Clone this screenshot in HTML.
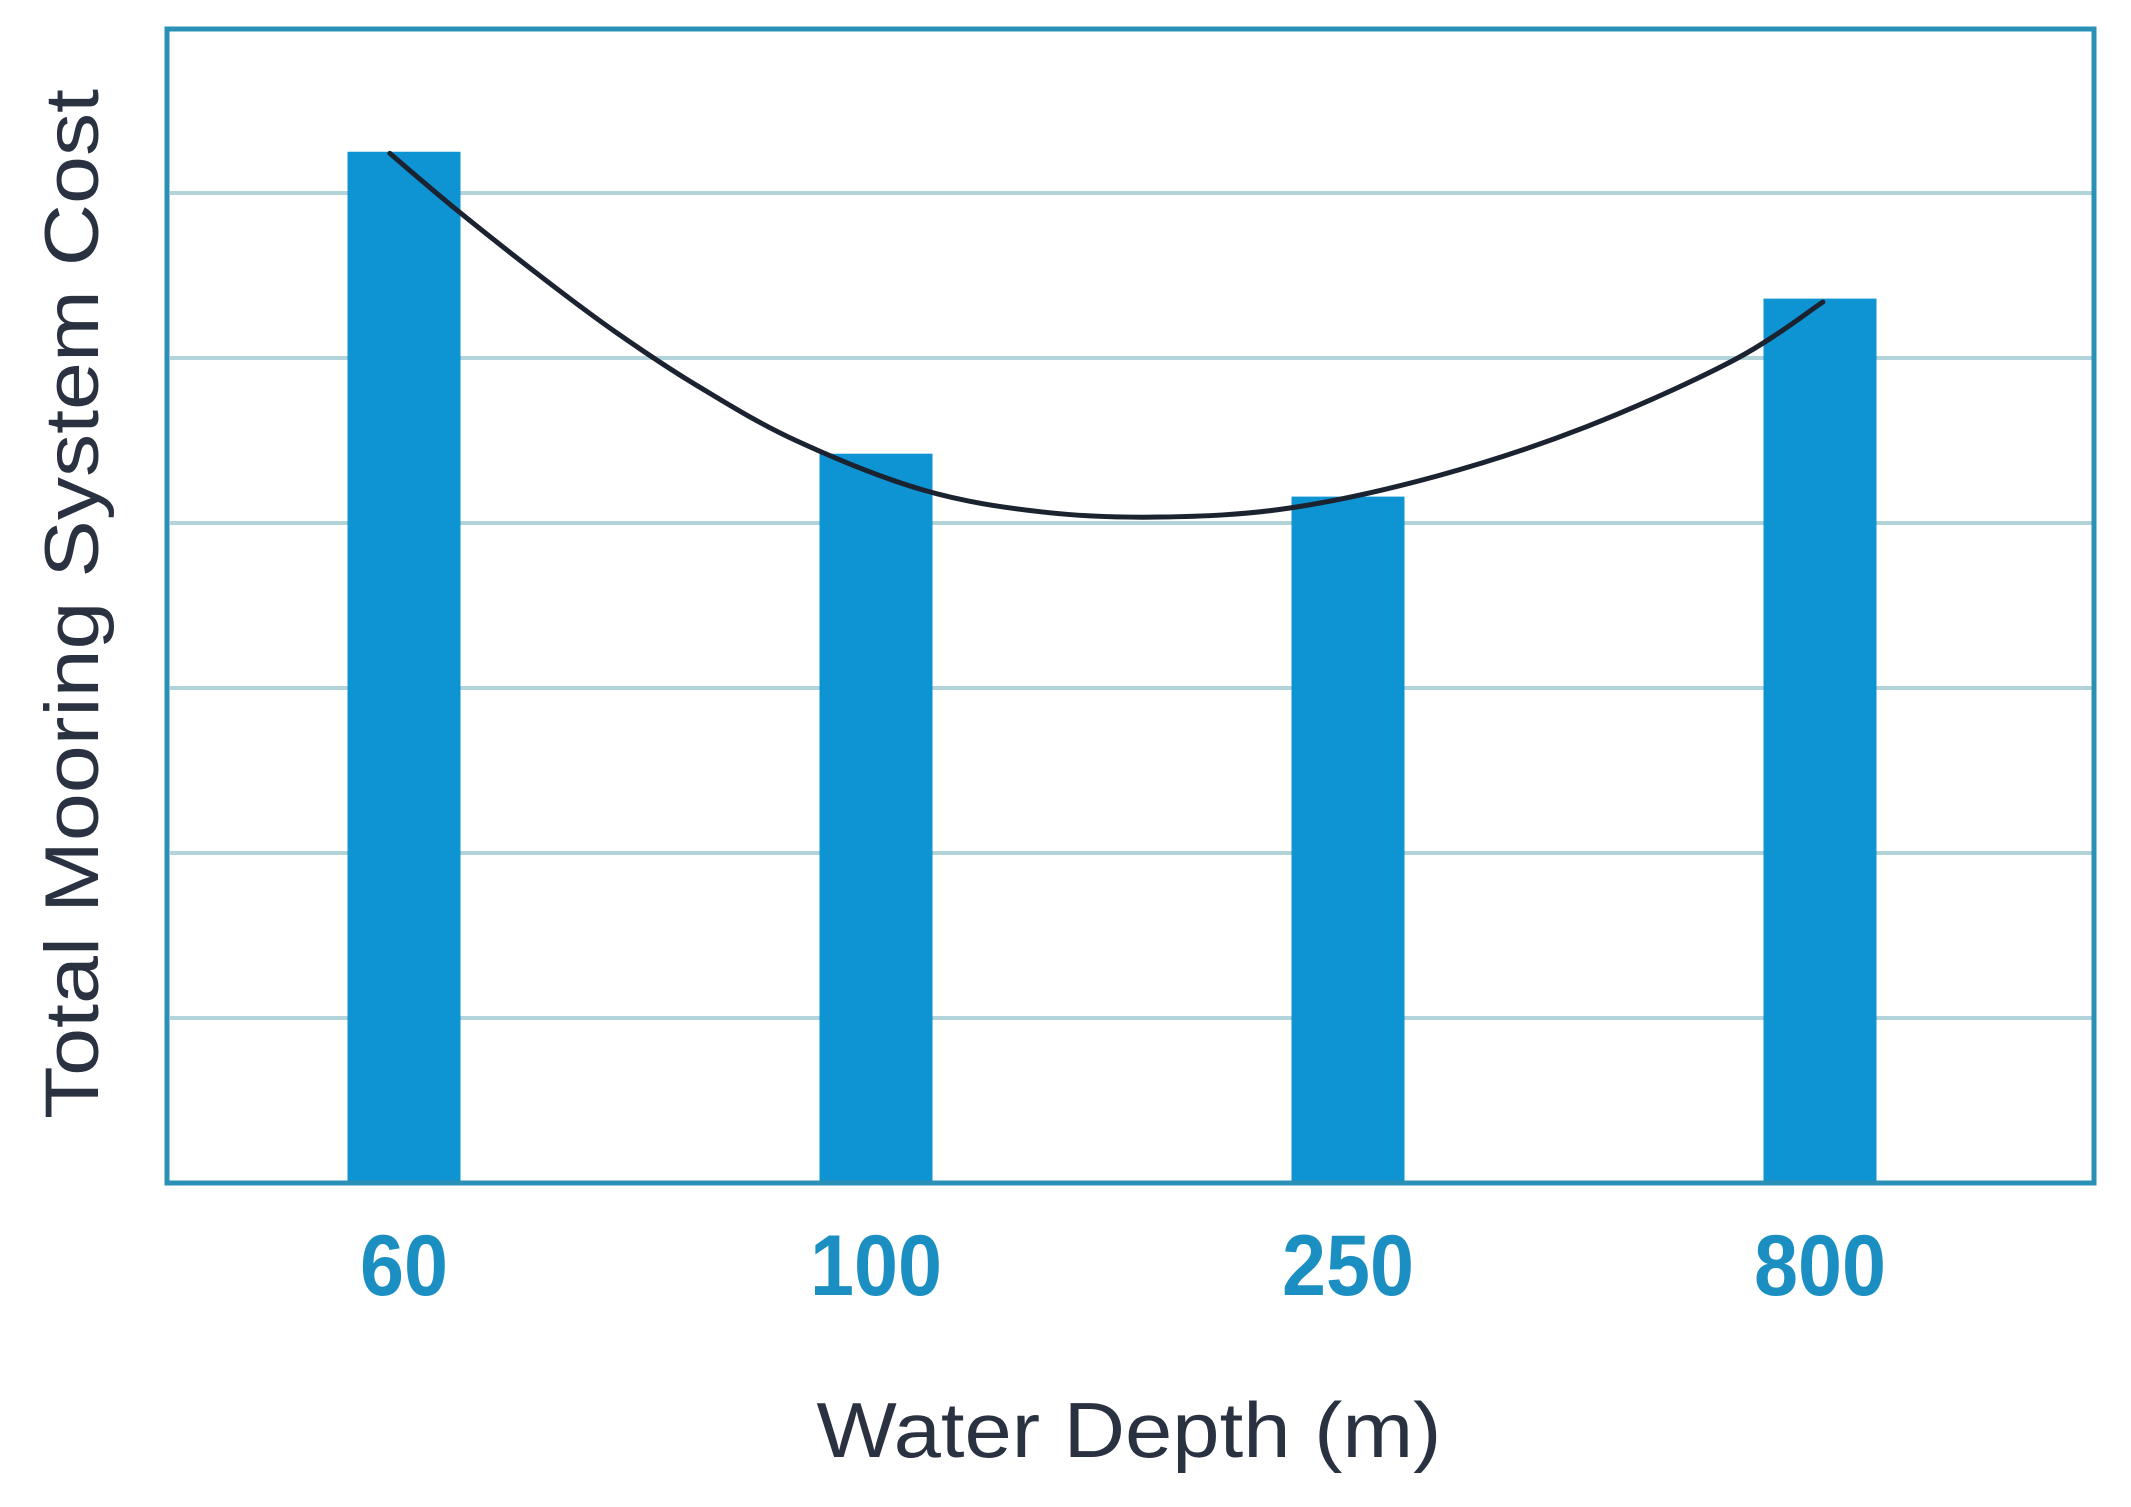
<!DOCTYPE html>
<html><head><meta charset="utf-8"><style>
html,body{margin:0;padding:0;background:#fff;}
svg{display:block;}
</style></head><body>
<svg id="chart" width="2131" height="1507" viewBox="0 0 2131 1507" xmlns="http://www.w3.org/2000/svg">
<g id="grid"></g>
<g id="bars"></g>
<path id="curve" fill="none" stroke="#1b2230" stroke-width="5" stroke-linecap="round"></path>
<rect x="167" y="29" width="1927" height="1154" fill="none" stroke="#2b90b5" stroke-width="5"></rect>
<g id="xlabels"></g>
<text x="1129" y="1457" text-anchor="middle" font-family="Liberation Sans, sans-serif" font-size="78" fill="#2a3140" textLength="625" lengthAdjust="spacingAndGlyphs">Water Depth (m)</text>
<text transform="translate(98,604) rotate(-90)" text-anchor="middle" font-family="Liberation Sans, sans-serif" font-size="76" fill="#2a3140" textLength="1030" lengthAdjust="spacingAndGlyphs">Total Mooring System Cost</text>
</svg>
<script>
const categories = ["60", "100", "250", "800"];
const costValues = [6.25, 4.42, 4.16, 5.36];
const curveIdx = [-0.03, 0.117, 0.305, 0.451, 0.619, 0.828, 1.10, 1.352, 1.602, 1.875, 2.189, 2.504, 2.818, 3.006];
const curveVals = [6.24, 5.885, 5.461, 5.152, 4.836, 4.503, 4.20, 4.067, 4.036, 4.09, 4.285, 4.582, 4.988, 5.339];
const gridTicks = [1, 2, 3, 4, 5, 6];

const NS = "http://www.w3.org/2000/svg";
const y0 = 1183, unit = 165;
function yScale(v){ return y0 - v*unit; }
const centers0 = 404, step = 472;
function xScale(i){ return centers0 + i*step; }
const barW = 113;

const grid = document.getElementById('grid');
gridTicks.forEach(t=>{
  const l = document.createElementNS(NS,'line');
  
  
  l.setAttribute('x1',170); l.setAttribute('x2',2092);
  l.setAttribute('y1',yScale(t)); l.setAttribute('y2',yScale(t));
  l.setAttribute('stroke','#b3d3da'); l.setAttribute('stroke-width','4');
  grid.appendChild(l);
});
const bars = document.getElementById('bars');
const xl = document.getElementById('xlabels');
categories.forEach((c,i)=>{
  const r = document.createElementNS(NS,'rect');
  
  
  r.setAttribute('x', xScale(i)-barW/2); r.setAttribute('width', barW);
  r.setAttribute('y', yScale(costValues[i])); r.setAttribute('height', y0 - yScale(costValues[i]));
  r.setAttribute('fill','#0e93d3');
  bars.appendChild(r);
  const t = document.createElementNS(NS,'text');
  
  
  t.setAttribute('x', xScale(i)); t.setAttribute('y', 1295);
  t.setAttribute('text-anchor','middle');
  t.setAttribute('font-family','Liberation Sans, sans-serif');
  t.setAttribute('font-weight','bold'); t.setAttribute('font-size','86');
  t.setAttribute('fill','#1c8fc2');
  t.setAttribute('textLength', c.length*44);
  t.setAttribute('lengthAdjust','spacingAndGlyphs');
  t.textContent = c;
  xl.appendChild(t);
});
const pts = curveIdx.map((x,i)=>[xScale(x), yScale(curveVals[i])]);
let d = `M${pts[0][0]},${pts[0][1]}`;
for(let i=0;i<pts.length-1;i++){
  const p0=pts[Math.max(0,i-1)], p1=pts[i], p2=pts[i+1], p3=pts[Math.min(pts.length-1,i+2)];
  const c1=[p1[0]+(p2[0]-p0[0])/6, p1[1]+(p2[1]-p0[1])/6];
  const c2=[p2[0]-(p3[0]-p1[0])/6, p2[1]-(p3[1]-p1[1])/6];
  d+=` C${c1[0]},${c1[1]} ${c2[0]},${c2[1]} ${p2[0]},${p2[1]}`;
}
document.getElementById('curve').setAttribute('d', d);
</script>
</body></html>
